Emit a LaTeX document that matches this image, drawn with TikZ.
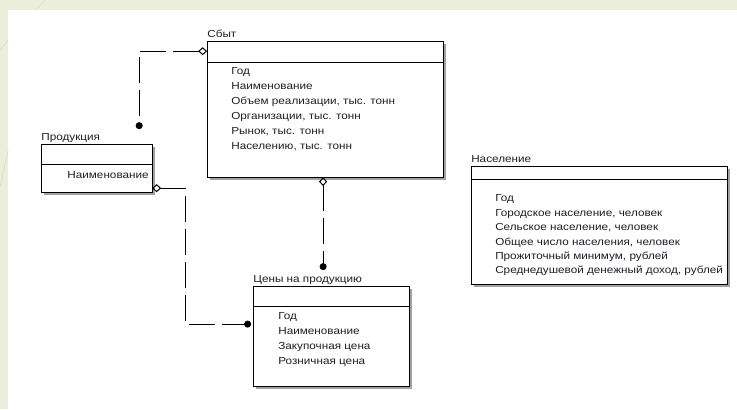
\documentclass[tikz,border=0pt]{standalone}
\usepackage{fontspec}
\setmainfont{Liberation Sans}[FakeStretch=1.15]
\usepackage{xcolor}
\usepackage{tikz}
\usetikzlibrary{arrows.meta,shadows}
\definecolor{slide}{HTML}{EBEEDA}
\definecolor{slideline}{HTML}{D3D8BC}
\definecolor{ink}{HTML}{1E1E28}
\definecolor{shade}{HTML}{8A8A8A}

\begin{document}
\begin{tikzpicture}[x=1pt,y=-1pt,
  entity/.style={draw=black,fill=white,line width=0.9pt,inner sep=0pt,outer sep=0pt,anchor=north west,
    drop shadow={shadow xshift=3pt,shadow yshift=-3pt,opacity=0.8,fill=shade}},
  attr/.style={ink,font=\fontsize{10.2}{12}\selectfont,anchor=base west,inner sep=0pt},
  link/.style={line width=1pt,dash pattern=on 26pt off 7pt,
    {Diamond[open,length=9pt,width=8pt]}-{Circle[length=7pt]}}]
  % slide background
  \fill[slide] (0,0) rectangle (737,409);
  \fill[white] (8,10) rectangle (737,409);
  \draw[slideline,line width=0.4pt] (35,10) -- (45,0);
  \draw[slideline,line width=0.4pt] (0,50) -- (8,40);
  \draw[slideline,line width=0.4pt] (0,186) -- (8,150);
  % entities: name/x/y/width/height/header/title
  \foreach \n/\px/\py/\w/\h/\hd/\t in {sbyt/207/41/236/136/21/Сбыт, prod/41/144/111/48/20/Продукция,
      ceny/253/286/156/100/20/Цены на продукцию, nasel/471/166/256/118/13/Население}{
    \node[entity,minimum width=\w,minimum height=\h] (\n) at (\px,\py) {};
    \draw[line width=0.9pt] (\px,\py+\hd) -- (\px+\w,\py+\hd);
    \node[attr] (\n-t) at (\px,\py-4) {\t};}
  \foreach \i/\t in {0/Год, 1/Наименование, 2/{Объем реализации, тыс. тонн}, 3/{Организации, тыс. тонн},
      4/{Рынок, тыс. тонн}, 5/{Населению, тыс. тонн}}
    \node[attr] (sbyt-a\i) at (231,74.5+15*\i) {\t};
  \node[attr] (prod-a0) at (67,178.5) {Наименование};
  \foreach \i/\t in {0/Год, 1/Наименование, 2/Закупочная цена, 3/Розничная цена}
    \node[attr] (ceny-a\i) at (278,319.5+15*\i) {\t};
  \foreach \i/\t in {0/Год, 1/{Городское население, человек}, 2/{Сельское население, человек},
      3/{Общее число населения, человек}, 4/{Прожиточный минимум, рублей}, 5/{Среднедушевой денежный доход, рублей}}
    \node[attr] (nasel-a\i) at (495,201.8+14.4*\i) {\t};
  % relationships
  \coordinate (sbyt-l) at ([yshift=-10pt]sbyt.north west);
  \coordinate (sbyt-b) at ([xshift=116pt]sbyt.south west);
  \coordinate (prod-k) at ([xshift=98pt,yshift=15pt]prod.north west);
  \coordinate (prod-r) at ([yshift=-44pt]prod.north east);
  \coordinate (ceny-l) at ([xshift=-2pt,yshift=-38pt]ceny.north west);
  \coordinate (ceny-k) at ([xshift=70pt,yshift=16pt]ceny.north west);
  \draw[link] (sbyt-l) -| (prod-k);
  \draw[link] (prod-r) -- ++(33,0) |- (ceny-l);
  \draw[link] (sbyt-b) -- (ceny-k);
\end{tikzpicture}
\end{document}
